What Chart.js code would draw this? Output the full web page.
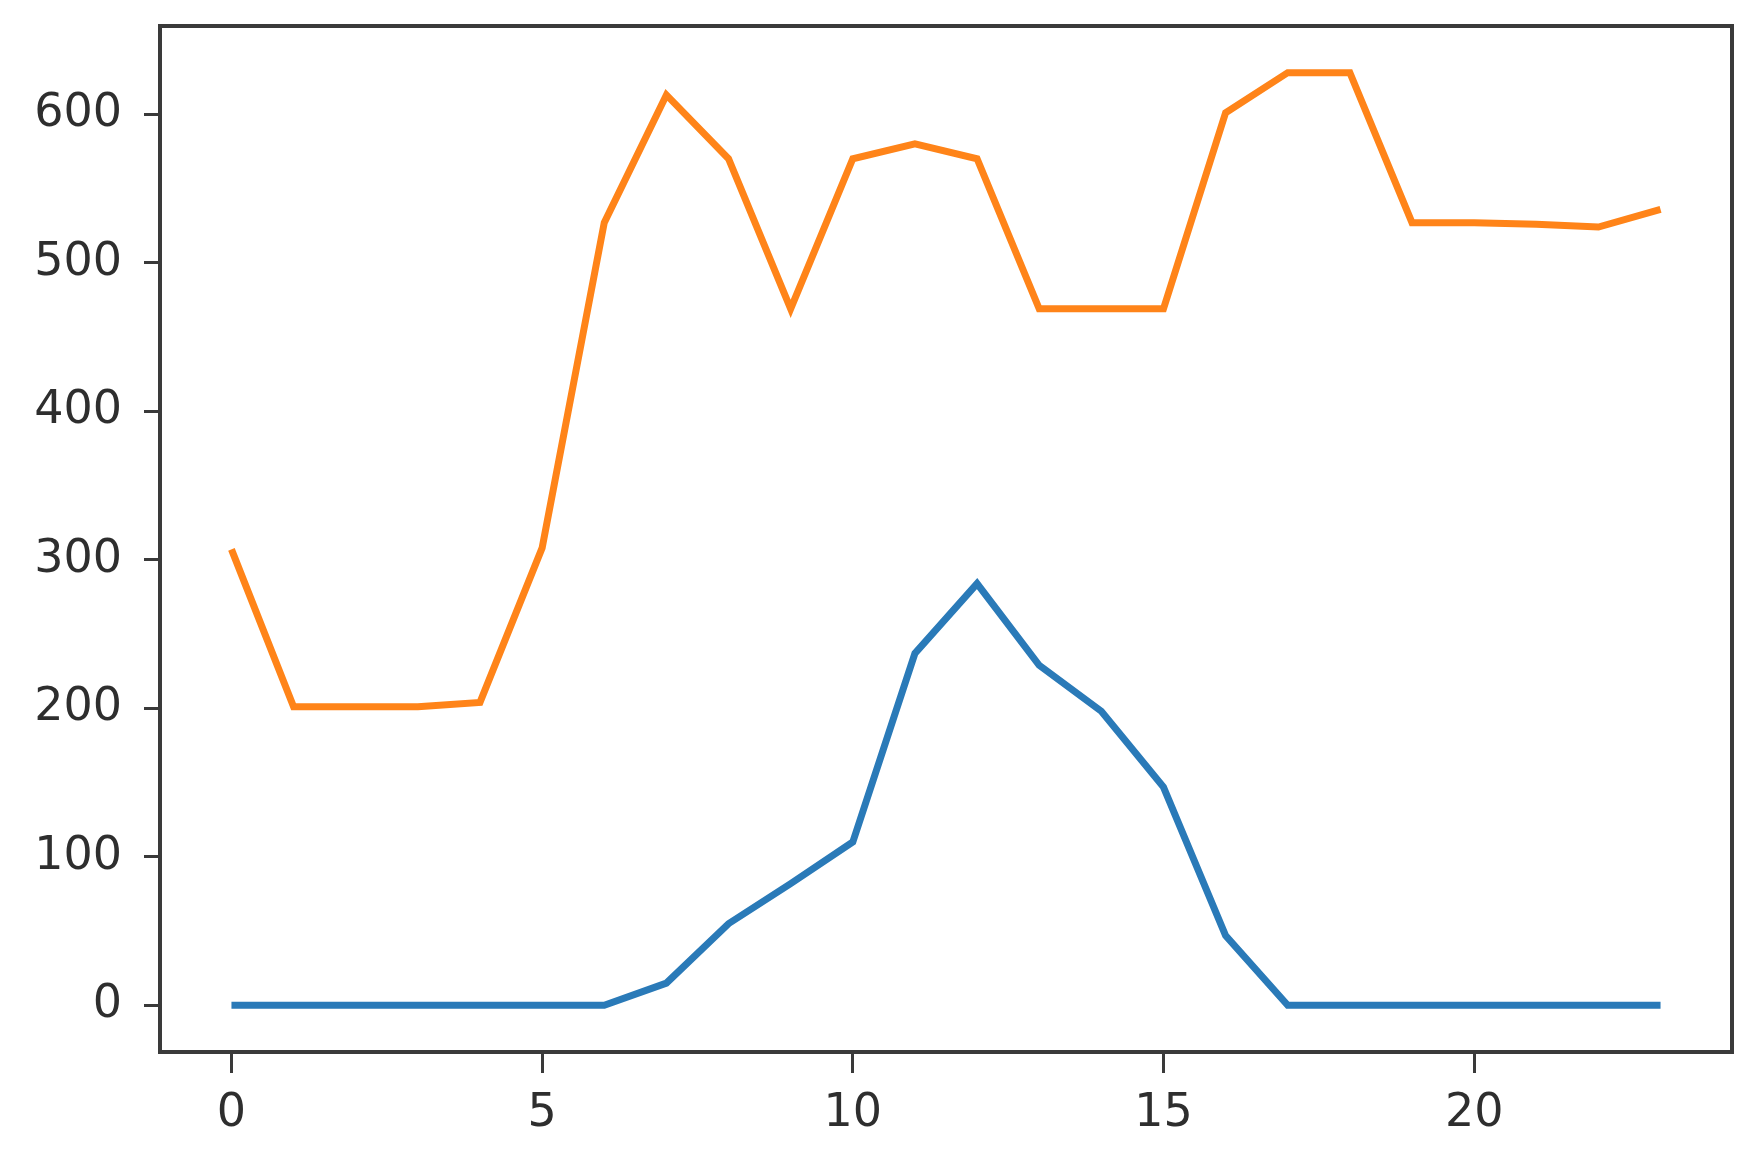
<!DOCTYPE html>
<html>
<head>
<meta charset="utf-8">
<script src="https://cdn.jsdelivr.net/npm/chart.js@4.4.1/dist/chart.umd.min.js"></script>
<style>
  html, body { margin: 0; padding: 0; background: #fff; }
  #wrap { width: 1764px; height: 1162px; }
</style>
</head>
<body>
<div id="wrap"><canvas id="line-chart" width="1764" height="1162"></canvas></div>
<script>
// hour of day
const hours = [0, 1, 2, 3, 4, 5, 6, 7, 8, 9, 10, 11, 12, 13, 14, 15, 16, 17, 18, 19, 20, 21, 22, 23];
const blueSeries = [0, 0, 0, 0, 0, 0, 0, 15, 55, 82, 110, 237, 284, 229, 198, 147, 47, 0, 0, 0, 0, 0, 0, 0];
const orangeSeries = [307, 201, 201, 201, 204, 308, 527, 613, 570, 469, 570, 580, 570, 469, 469, 469, 601, 628, 628, 527, 527, 526, 524, 536];
const xTickValues = [0, 5, 10, 15, 20];
const yTickValues = [0, 100, 200, 300, 400, 500, 600];

const inkColor = '#2e2e2e';
const tickFont = { family: 'DejaVu Sans', size: 46 };

const toPoints = series => hours.map((h, i) => ({ x: h, y: series[i] }));

// matplotlib-style box around the plot area
const framePlugin = {
  id: 'frame',
  afterDraw(chart) {
    const { ctx, chartArea: a } = chart;
    ctx.save();
    ctx.strokeStyle = '#3a3a3a';
    ctx.lineWidth = 4;
    ctx.strokeRect(a.left, a.top, a.right - a.left, a.bottom - a.top);
    ctx.restore();
  }
};

new Chart(document.getElementById('line-chart'), {
  type: 'line',
  data: {
    datasets: [
      {
        data: toPoints(blueSeries),
        borderColor: '#2a7ab8',
        borderWidth: 7,
        pointRadius: 0,
        tension: 0,
        fill: false
      },
      {
        data: toPoints(orangeSeries),
        borderColor: '#ff8419',
        borderWidth: 7,
        pointRadius: 0,
        tension: 0,
        fill: false
      }
    ]
  },
  options: {
    responsive: false,
    animation: false,
    layout: { padding: { top: 26, right: 32, left: 0, bottom: 0 } },
    plugins: {
      legend: { display: false },
      title: { display: false },
      tooltip: { enabled: false }
    },
    scales: {
      x: {
        type: 'linear',
        min: -1.15,
        max: 24.15,
        afterBuildTicks: s => { s.ticks = xTickValues.map(v => ({ value: v })); },
        afterFit: s => { s.height = 110; s.paddingLeft = 0; s.paddingRight = 0; },
        border: { display: false },
        grid: { drawOnChartArea: false, drawTicks: true, tickLength: 21, tickColor: '#3a3a3a', lineWidth: 3 },
        ticks: { color: inkColor, font: tickFont, padding: 13, maxRotation: 0, autoSkip: false }
      },
      y: {
        type: 'linear',
        min: -31.4,
        max: 659.4,
        afterBuildTicks: s => { s.ticks = yTickValues.map(v => ({ value: v })); },
        afterFit: s => { s.width = 160; s.paddingTop = 0; s.paddingBottom = 0; },
        border: { display: false },
        grid: { drawOnChartArea: false, drawTicks: true, tickLength: 16, tickColor: '#3a3a3a', lineWidth: 3 },
        ticks: { color: inkColor, font: tickFont, padding: 22, autoSkip: false }
      }
    }
  },
  plugins: [framePlugin]
});
</script>
</body>
</html>
